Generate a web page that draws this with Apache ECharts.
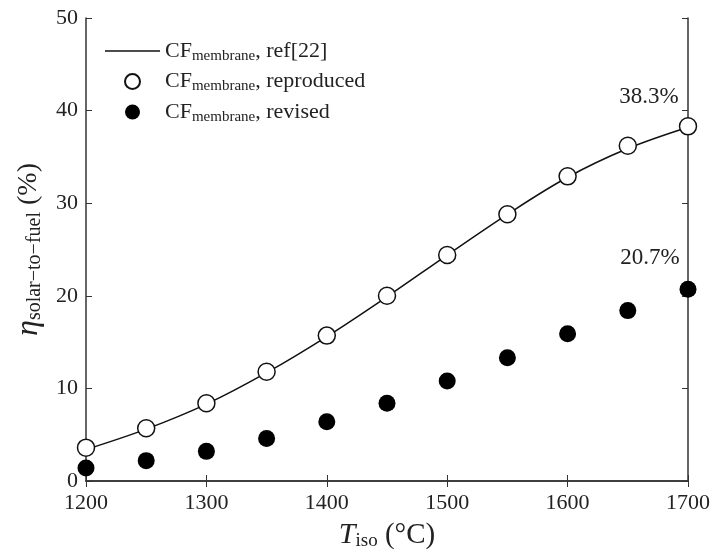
<!DOCTYPE html>
<html>
<head>
<meta charset="utf-8">
<script src="https://cdn.jsdelivr.net/npm/echarts@6/dist/echarts.min.js"></script>
<style>
  html, body { margin: 0; padding: 0; background: #fff; }
  #chart { width: 715px; height: 559px; }
</style>
</head>
<body>
<div id="chart"></div>
<script>
const temps = [1200, 1250, 1300, 1350, 1400, 1450, 1500, 1550, 1600, 1650, 1700];
const refLine = [3.4, 5.6, 8.3, 11.7, 15.6, 19.9, 24.4, 28.8, 32.8, 35.9, 38.2];
const reproduced = [3.6, 5.7, 8.4, 11.8, 15.7, 20.0, 24.4, 28.8, 32.9, 36.2, 38.3];
const revised = [1.4, 2.2, 3.2, 4.6, 6.4, 8.4, 10.8, 13.3, 15.9, 18.4, 20.7];
const xTicks = [1200, 1300, 1400, 1500, 1600, 1700];
const yTicks = [0, 10, 20, 30, 40, 50];

const serif = 'Liberation Serif';
const axisColor = '#333';
const textColor = '#222';

const pairs = (ys) => temps.map((t, i) => [t, ys[i]]);

// label the last point of a series with its value
const lastLabelled = (ys, offset) => pairs(ys).map((p, i) => {
  if (i !== ys.length - 1) return p;
  return {
    value: p,
    label: {
      show: true, position: 'top', offset: offset,
      formatter: ys[i].toFixed(1) + '%',
      fontFamily: serif, fontSize: 23, color: textColor
    }
  };
});

const legendTail = { ref: ', ref[22]', rep: ', reproduced', rev: ', revised' };

const chart = echarts.init(document.getElementById('chart'));

const baseX = {
  type: 'value', min: 1200, max: 1700, interval: 100,
  axisLine: { show: true, lineStyle: { color: axisColor, width: 1.5 } },
  axisTick: { show: true, inside: true, length: 6, lineStyle: { color: axisColor } },
  splitLine: { show: false }
};
const baseY = {
  type: 'value', min: 0, max: 50, interval: 10,
  axisLine: { show: true, lineStyle: { color: axisColor, width: 1.5 } },
  axisTick: { show: true, inside: true, length: 6, lineStyle: { color: axisColor } },
  splitLine: { show: false }
};

const option = {
  backgroundColor: '#fff',
  animation: false,
  grid: { left: 86, right: 27, top: 18, bottom: 78, outerBoundsMode: 'none' },
  legend: {
    orient: 'vertical', left: 100, top: 35,
    itemWidth: 55, itemHeight: 15, itemGap: 7,
    data: [
      { name: 'ref', icon: 'path://M0,0 L55,0 L55,1.6 L0,1.6 Z', itemStyle: { color: '#111' } },
      { name: 'rep' },
      { name: 'rev' }
    ],
    formatter: (n) => '{b|CF}{s|membrane}{b|' + legendTail[n] + '}',
    textStyle: {
      fontFamily: serif, color: textColor,
      rich: {
        b: { fontFamily: serif, fontSize: 22, color: textColor },
        s: { fontFamily: serif, fontSize: 15, color: textColor, padding: [10, 0, 0, 0] }
      }
    }
  },
  xAxis: [
    Object.assign({}, baseX, {
      position: 'bottom',
      axisLabel: {
        fontFamily: serif, fontSize: 22, color: textColor, margin: 11,
        formatter: (v) => xTicks.includes(v) ? String(v) : ''
      },
      name: '{i|T}{s|iso}{n| (°C)}',
      nameLocation: 'middle', nameGap: 39,
      nameTextStyle: {
        rich: {
          i: { fontFamily: serif, fontStyle: 'italic', fontSize: 30, color: textColor },
          s: { fontFamily: serif, fontSize: 19, color: textColor, padding: [12, 0, 0, 0] },
          n: { fontFamily: serif, fontSize: 29, color: textColor }
        }
      }
    }),
    Object.assign({}, baseX, { position: 'top', axisLabel: { show: false } })
  ],
  yAxis: [
    Object.assign({}, baseY, {
      position: 'left',
      axisLabel: {
        fontFamily: serif, fontSize: 22, color: textColor, margin: 8,
        formatter: (v) => yTicks.includes(v) ? String(v) : ''
      },
      name: '{i|η}{s|solar−to−fuel}{n| (%)}',
      nameLocation: 'middle', nameGap: 40, nameRotate: 90,
      nameTextStyle: {
        rich: {
          i: { fontFamily: serif, fontStyle: 'italic', fontSize: 32, color: textColor },
          s: { fontFamily: serif, fontSize: 20, color: textColor, padding: [13, 0, 0, 0] },
          n: { fontFamily: serif, fontSize: 28, color: textColor }
        }
      }
    }),
    Object.assign({}, baseY, { position: 'right', axisLabel: { show: false } })
  ],
  series: [
    {
      name: 'ref', type: 'line', smooth: 0.35, symbol: 'none',
      data: pairs(refLine),
      lineStyle: { color: '#111', width: 1.5 },
      itemStyle: { color: '#111' },
      z: 2
    },
    {
      name: 'rep', type: 'scatter', symbol: 'circle', symbolSize: 17,
      data: lastLabelled(reproduced, [-39, -4]),
      itemStyle: { color: '#fff', borderColor: '#111', borderWidth: 1.5, opacity: 1 },
      z: 3
    },
    {
      name: 'rev', type: 'scatter', symbol: 'circle', symbolSize: 17,
      data: lastLabelled(revised, [-38, -6]),
      itemStyle: { color: '#000', opacity: 1 },
      z: 3
    }
  ]
};

chart.setOption(option);
</script>
</body>
</html>
